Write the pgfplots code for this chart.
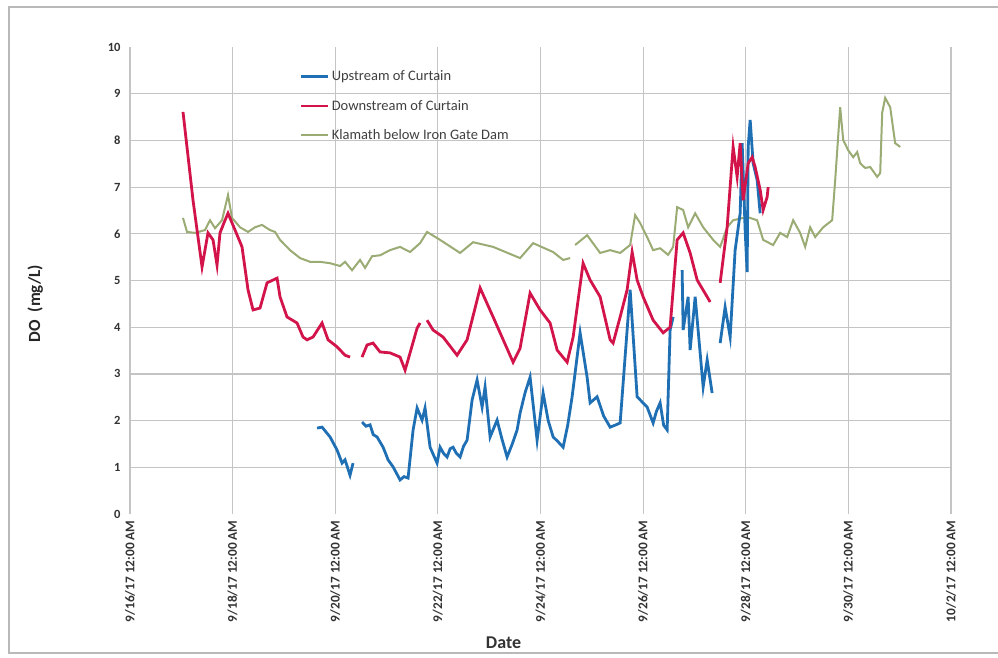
\documentclass[border=0pt]{standalone}
\usepackage{fontspec}
\setmainfont{Carlito}
\usepackage{pgfplots}
\usepackage{pgfplotstable}
\pgfplotsset{compat=1.18}
\definecolor{upc}{HTML}{1F6FB4}
\definecolor{dnc}{HTML}{D2144A}
\definecolor{klc}{HTML}{9AAB74}
\definecolor{gridc}{HTML}{C4C4C4}

% days since 9/16/17 12:00 AM, DO (mg/L)
\pgfplotstableread{
d v
3.645 1.84
3.743 1.86
3.899 1.65
4.035 1.37
4.133 1.09
4.191 1.16
4.288 0.83
4.347 1.09
4.40 nan
4.522 1.97
4.600 1.88
4.678 1.91
4.740 1.70
4.815 1.65
4.932 1.43
4.980 1.30
5.029 1.16
5.127 1.01
5.263 0.73
5.340 0.80
5.419 0.77
5.517 1.80
5.595 2.27
5.692 2.01
5.750 2.27
5.848 1.43
5.984 1.09
6.043 1.43
6.110 1.30
6.179 1.22
6.240 1.40
6.296 1.43
6.360 1.30
6.433 1.22
6.500 1.45
6.569 1.58
6.667 2.44
6.764 2.87
6.862 2.29
6.920 2.72
7.018 1.65
7.154 2.01
7.250 1.60
7.349 1.22
7.450 1.50
7.544 1.80
7.602 2.16
7.700 2.60
7.797 2.93
7.934 1.58
8.051 2.59
8.150 2.00
8.246 1.65
8.340 1.55
8.441 1.43
8.530 1.90
8.616 2.51
8.772 3.88
8.908 2.93
8.967 2.38
9.103 2.51
9.230 2.10
9.357 1.86
9.450 1.90
9.552 1.95
9.688 3.94
9.747 4.80
9.883 2.51
10.078 2.29
10.195 1.95
10.260 2.20
10.331 2.38
10.400 1.90
10.468 1.80
10.526 3.94
10.585 4.22
10.67 nan
10.760 5.22
10.780 3.94
10.877 4.65
10.916 3.51
11.014 4.65
11.170 2.72
11.248 3.30
11.345 2.59
11.42 nan
11.501 3.66
11.598 4.43
11.696 3.79
11.793 5.65
11.891 6.44
11.930 7.94
11.988 6.08
12.027 5.18
12.047 7.86
12.086 8.44
12.144 7.51
12.222 7.15
12.281 6.44
}\upstream

\pgfplotstableread{
d v
1.033 8.61
1.228 6.72
1.404 5.29
1.520 6.02
1.618 5.87
1.696 5.33
1.754 6.02
1.852 6.29
1.910 6.44
2.047 6.08
2.183 5.72
2.300 4.80
2.398 4.37
2.534 4.41
2.671 4.95
2.866 5.05
2.924 4.65
3.060 4.22
3.255 4.09
3.372 3.79
3.450 3.73
3.567 3.79
3.743 4.09
3.860 3.73
4.035 3.58
4.191 3.40
4.288 3.36
4.40 nan
4.522 3.36
4.620 3.62
4.737 3.66
4.873 3.47
5.068 3.45
5.263 3.36
5.361 3.08
5.458 3.45
5.595 3.98
5.653 4.09
5.72 nan
5.789 4.15
5.906 3.94
6.101 3.79
6.374 3.40
6.569 3.73
6.823 4.84
7.076 4.22
7.466 3.25
7.602 3.55
7.797 4.73
7.992 4.37
8.187 4.09
8.324 3.51
8.519 3.25
8.636 3.79
8.830 5.37
8.967 5.01
9.162 4.65
9.357 3.73
9.415 3.66
9.552 4.22
9.688 4.80
9.786 5.61
9.883 5.01
10.000 4.65
10.195 4.15
10.390 3.88
10.526 4.00
10.663 5.87
10.780 6.02
10.916 5.59
11.053 5.01
11.248 4.65
11.306 4.54
11.40 nan
11.501 4.95
11.637 6.14
11.754 7.86
11.832 7.22
11.891 7.94
11.949 6.72
12.047 7.51
12.125 7.64
12.183 7.43
12.281 6.94
12.339 6.51
12.417 6.79
12.437 7.00
}\downstream

\pgfplotstableread{
d v
1.033 6.34
1.111 6.04
1.267 6.02
1.462 6.08
1.559 6.29
1.657 6.12
1.793 6.29
1.910 6.83
1.988 6.34
2.144 6.14
2.300 6.04
2.437 6.14
2.573 6.19
2.729 6.08
2.827 6.04
2.924 5.87
3.119 5.65
3.314 5.48
3.509 5.40
3.704 5.40
3.899 5.37
4.094 5.31
4.191 5.40
4.327 5.22
4.483 5.44
4.581 5.27
4.717 5.52
4.873 5.54
5.068 5.65
5.263 5.72
5.458 5.61
5.653 5.80
5.789 6.04
6.043 5.87
6.433 5.59
6.686 5.82
7.076 5.72
7.602 5.48
7.856 5.80
8.246 5.61
8.441 5.44
8.577 5.48
8.62 nan
8.675 5.76
8.909 5.97
9.162 5.59
9.357 5.65
9.552 5.59
9.747 5.76
9.844 6.40
9.942 6.23
10.078 5.93
10.195 5.65
10.331 5.69
10.487 5.55
10.585 5.72
10.663 6.57
10.780 6.51
10.877 6.14
11.014 6.44
11.170 6.14
11.365 5.87
11.501 5.72
11.637 6.14
11.754 6.29
12.027 6.36
12.222 6.29
12.339 5.87
12.534 5.76
12.671 6.02
12.807 5.93
12.924 6.29
13.060 6.02
13.158 5.72
13.255 6.14
13.353 5.93
13.509 6.14
13.684 6.29
13.743 7.15
13.840 8.71
13.899 8.01
13.996 7.79
14.094 7.64
14.172 7.75
14.230 7.51
14.327 7.41
14.425 7.43
14.561 7.22
14.620 7.30
14.659 8.59
14.717 8.91
14.815 8.71
14.912 7.94
15.010 7.86
}\klamath

\begin{document}
\begin{tikzpicture}
\path[use as bounding box] (0pt,0pt) rectangle (998pt,657pt);
\fill[white] (0pt,0pt) rectangle (998pt,657pt);
\draw[gray!55, line width=1.2pt] (998pt,4pt) -- (9pt,4pt) -- (9pt,650pt) -- (998pt,650pt);
\begin{axis}[
  at={(130pt,143pt)}, anchor=south west,
  scale only axis, width=821pt, height=467pt,
  xmin=0, xmax=16, ymin=0, ymax=10,
  axis line style={draw=none},
  major tick length=0pt,
  xtick={0,2,...,16},
  xticklabels={9/16/17 12:00 AM,9/18/17 12:00 AM,9/20/17 12:00 AM,9/22/17 12:00 AM,9/24/17 12:00 AM,9/26/17 12:00 AM,9/28/17 12:00 AM,9/30/17 12:00 AM,10/2/17 12:00 AM},
  xticklabel style={rotate=90, anchor=east, font=\bfseries\fontsize{13.3}{13.3}\selectfont, text=black!80, xshift=-3pt},
  ytick={1,...,9},
  extra y ticks={0,10},
  extra y tick style={grid=none},
  /pgf/number format/assume math mode=true,
  yticklabel style={font=\bfseries\fontsize{12.5}{12.5}\selectfont, text=black!80, xshift=-6pt},
  grid=major,
  major grid style={gridc, line width=1.2pt},
  xlabel={Date}, ylabel={DO\ \ (mg/L)},
  xlabel style={font=\bfseries\fontsize{18}{18}\selectfont, text=black!80, yshift=-8pt, xshift=-37pt},
  ylabel style={font=\bfseries\fontsize{17}{17}\selectfont, text=black!85, yshift=58pt, xshift=-23pt},
  unbounded coords=jump,
  legend style={at={(0.207,0.954)}, anchor=north west, draw=none, fill=none,
    font=\fontsize{14.5}{14.5}\selectfont, text=black!75, row sep=14pt, inner sep=0pt},
  legend cell align=left,
  legend image code/.code={\draw[#1] (0pt,0pt) -- (27pt,0pt);},
]
\addplot[klc, line width=2pt, forget plot] table[x=d,y=v] {\klamath};
\addplot[upc, line width=2.8pt, forget plot] table[x=d,y=v] {\upstream};
\addplot[dnc, line width=2.8pt, forget plot] table[x=d,y=v] {\downstream};
\addlegendimage{upc, line width=2.6pt}
\addlegendimage{dnc, line width=2.6pt}
\addlegendimage{klc, line width=2pt}
\legend{Upstream of Curtain, Downstream of Curtain, Klamath below Iron Gate Dam}
\end{axis}
\end{tikzpicture}
\end{document}
